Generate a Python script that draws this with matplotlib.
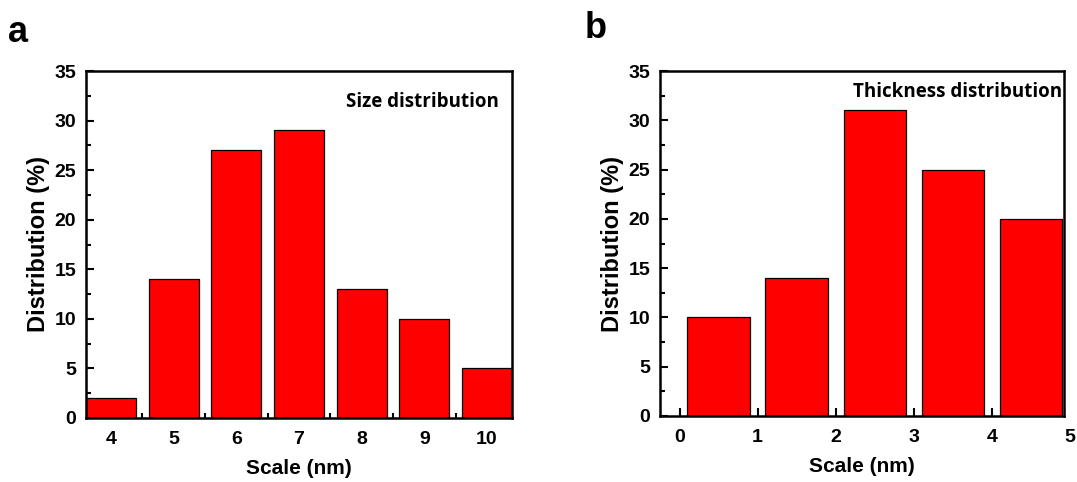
import matplotlib
matplotlib.use("Agg")
import matplotlib.pyplot as plt
from matplotlib.ticker import MultipleLocator
import matplotlib.transforms as mtransforms
from matplotlib.font_manager import FontProperties

# Data
size_scale = [4, 5, 6, 7, 8, 9, 10]
size_dist = [2, 14, 27, 29, 13, 10, 5]
thick_scale = [0.5, 1.5, 2.5, 3.5, 4.5]
thick_dist = [10, 14, 31, 25, 20]
thick_ticks = [0, 1, 2, 3, 4, 5]

W, H = 1077, 482
fig = plt.figure(figsize=(W / 100, H / 100), dpi=100)

tickfont = dict(family="Liberation Sans", weight="bold", size=14)
ylabelfont = dict(family="Liberation Sans", weight="bold", size=17)
xlabelfont = dict(family="Liberation Sans", weight="bold", size=15)
notefont = dict(family="Open Sans", weight="bold", size=13.5)
XPAD = 9

def box(x0, y0, x1, y1):
    return [x0 / W, 1 - y1 / H, (x1 - x0) / W, (y1 - y0) / H]

def style(ax):
    for s in ax.spines.values():
        s.set_linewidth(1.8)
    ax.tick_params(which="both", direction="in", top=False, right=False, width=1.5)
    ax.tick_params(which="major", length=6)
    ax.tick_params(axis="x", which="major", pad=XPAD)
    ax.tick_params(axis="y", which="major", pad=7)
    ax.tick_params(which="minor", length=3.5)
    ax.set_ylim(0, 35)
    ax.yaxis.set_major_locator(MultipleLocator(5))
    ax.yaxis.set_minor_locator(MultipleLocator(2.5))
    for lab in ax.get_xticklabels() + ax.get_yticklabels():
        lab.set_fontproperties(FontProperties(**tickfont))
    ax.set_ylabel("Distribution (%)", fontdict=ylabelfont, labelpad=3)
    ax.set_xlabel("Scale (nm)", fontdict=xlabelfont, labelpad=8)

# Panel a
ax1 = fig.add_axes(box(86, 71, 512, 418))
ax1.bar(size_scale, size_dist, width=0.8, color="#ff0000", edgecolor="black", linewidth=0.9, zorder=2)
ax1.set_xlim(3.6, 10.4)
ax1.set_xticks(size_scale)
ax1.xaxis.set_minor_locator(MultipleLocator(0.5))
style(ax1)
ax1.text(0.97, 0.91, "Size distribution", transform=ax1.transAxes, ha="right", va="center", fontdict=notefont)

# Panel b
ax2 = fig.add_axes(box(660, 71, 1064, 416))
ax2.bar(thick_scale, thick_dist, width=0.8, color="#ff0000", edgecolor="black", linewidth=0.9, zorder=2)
ax2.set_xlim(-0.25, 4.92)
ax2.set_xticks(thick_ticks[:-1])
ax2.xaxis.set_minor_locator(MultipleLocator(0.5))
style(ax2)
# tick label for 5 lies just beyond the axis frame in the original
trans = mtransforms.blended_transform_factory(ax2.transData, ax2.transAxes) + \
    mtransforms.ScaledTranslation(0, -XPAD / 72, fig.dpi_scale_trans)
ax2.text(thick_ticks[-1], 0, str(thick_ticks[-1]), transform=trans, ha="center", va="top",
         clip_on=False, fontdict=tickfont)
ax2.text(0.995, 0.94, "Thickness distribution", transform=ax2.transAxes, ha="right", va="center", fontdict=notefont)

# Panel letters
fig.text(18 / W, 1 - 33 / H, "a", ha="center", va="center", fontsize=26, fontweight="bold", family="Liberation Sans")
fig.text(596 / W, 1 - 29 / H, "b", ha="center", va="center", fontsize=26, fontweight="bold", family="Liberation Sans")

fig.savefig("out.png", dpi=100)
